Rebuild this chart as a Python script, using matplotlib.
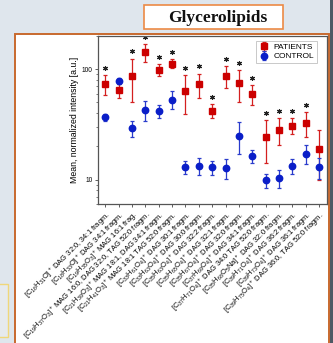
import numpy as np
import matplotlib
matplotlib.use("Agg")
import matplotlib.pyplot as plt
from matplotlib.patches import Rectangle
from matplotlib.ticker import NullFormatter

plt.rcParams['font.family'] = ['Liberation Sans', 'DejaVu Sans']
plt.rcParams['mathtext.default'] = 'regular'

# Datos
etiquetas = [
    '[C$_{16}$H$_{31}$O]$^+$ DAG 32:0, 34:1 fragm.',
    '[C$_{18}$H$_{33}$O]$^+$ DAG 34:1 fragm.',
    '[C$_{19}$H$_{35}$O$_3$]$^+$ MAG 16:1 frag.',
    '[C$_{19}$H$_{37}$O$_3$]$^+$ MAG 16:0, DAG 32:0, TAG 52:0 fragm.',
    '[C$_{21}$H$_{39}$O$_3$]$^+$ MAG 18:1, DAG 34:1 fragm.',
    '[C$_{21}$H$_{41}$O$_3$]$^+$ MAG 18:1 TAG 52:0 fragm.',
    '[C$_{33}$H$_{61}$O$_4$]$^+$ DAG 30:1 fragm.',
    '[C$_{33}$H$_{63}$O$_4$]$^+$ DAG 30:0 fragm.',
    '[C$_{35}$H$_{63}$O$_4$]$^+$ DAG 32:2 fragm.',
    '[C$_{35}$H$_{65}$O$_4$]$^+$ DAG 32:1 fragm.',
    '[C$_{35}$H$_{67}$O$_4$]$^+$ DAG 32:0 fragm.',
    '[C$_{37}$H$_{69}$O$_4$]$^+$ DAG 34:1 fragm.',
    '[C$_{37}$H$_{71}$O$_4$]$^+$ DAG 34:0 TAG 52:0 fragm.',
    '[C$_{35}$H$_{68}$O$_5$Na]$^+$ DAG 32:0 fragm.',
    '[C$_{39}$H$_{71}$O$_4$]$^+$ DAG 36:2 fragm.',
    '[C$_{39}$H$_{73}$O$_4$]$^+$ DAG 36:1 fragm.',
    '[C$_{39}$H$_{75}$O$_4$]$^+$ DAG 36:0, TAG 52:0 fragm.',
]
pacientes = [73, 64.5, 87.5, 143, 99, 112.5, 63.7, 73.4, 42.1, 87, 74.5, 59.5,
             24.2, 28.1, 30.8, 32.6, 18.9]
pacientes_sd = [15, 9.5, 37.5, 27, 12, 10.5, 24.3, 18, 5.9, 19.5, 24.5, 12.5,
                10.2, 7.7, 5.2, 8.2, 9]
control = [36.7, 78.2, 29.2, 42.4, 41.5, 53.1, 12.9, 13.4, 12.9, 12.7, 25, 16.3,
           9.8, 10.3, 13.4, 17.1, 13]
control_sd = [2.9, 5.2, 4.7, 8.6, 5.5, 9.7, 1.7, 2.4, 1.9, 2.5, 7.9, 2.3,
              1.5, 2.0, 2.1, 3.3, 2.8]
significativo = [True, False, True, True, True, True, True, True, True, True,
                 True, True, True, True, True, True, False]

W, H = 333, 343
fig = plt.figure(figsize=(W / 100, H / 100), dpi=100)
fig.patch.set_facecolor('#dfe6ed')


def caja(x0, y0, x1, y1, **kw):
    # rectangulo en pixeles (origen arriba a la izquierda), detras de los ejes
    r = Rectangle((x0 / W, 1 - y1 / H), (x1 - x0) / W, (y1 - y0) / H,
                  transform=fig.transFigure, zorder=-5, **kw)
    fig.patches.append(r)


# Decoracion del poster
caja(330, 0, 333, 343, facecolor='#4f5964', edgecolor='none')
caja(-2, 284, 8, 337, facecolor='#e6eaee', edgecolor='#f0d77a', linewidth=1)
caja(15, 34, 329, 350, facecolor='white', edgecolor='#c8692e', linewidth=1.4)
caja(144, 5, 283, 29, facecolor='white', edgecolor='#ec8a45', linewidth=1.2)
fig.text(218 / W, 1 - 17.5 / H, 'Glycerolipids', family='Liberation Serif',
         weight='bold', fontsize=12.5, ha='center', va='center', color='#111111')

ax = fig.add_axes([98 / W, 1 - 204 / H, (327 - 98) / W, (204 - 36) / H])
x = np.arange(len(etiquetas))

ax.errorbar(x, pacientes, yerr=pacientes_sd, fmt='s', color='#cc0000',
            ecolor='#d42020', markersize=4.2, capsize=1.6, elinewidth=0.9,
            capthick=0.9, label='PATIENTS', zorder=3)
ax.errorbar(x, control, yerr=control_sd, fmt='o', color='#0a1ec8',
            ecolor='#2a3ccc', markersize=4.6, capsize=1.6, elinewidth=0.9,
            capthick=0.9, label='CONTROL', zorder=3)

# Asteriscos de significancia
tope = np.array(pacientes) + np.array(pacientes_sd)
sig = np.array(significativo)
ax.plot(x[sig], tope[sig] * 1.16, linestyle='none', marker=(6, 2, 0),
        markersize=3.6, markeredgewidth=0.8, color='#222222')

ax.set_yscale('log')
ax.set_ylim(6, 200)
ax.set_xlim(-0.55, 16.6)
ax.set_yticks([10, 100])
ax.set_yticklabels(['10', '100'])
ax.yaxis.set_minor_formatter(NullFormatter())
ax.set_ylabel('Mean, normalized intensity [a.u.]', fontsize=6.3, labelpad=2)

ax.set_xticks(x)
ax.set_xticklabels(etiquetas, rotation=45, ha='right', rotation_mode='anchor',
                   fontsize=5.4)
ax.tick_params(axis='y', which='major', labelsize=4.8, length=2.5, width=0.6,
               pad=1.5, color='#444444')
ax.tick_params(axis='y', which='minor', length=1.5, width=0.5, color='#444444')
ax.tick_params(axis='x', length=2.5, width=0.6, pad=1.5, color='#444444')

for s in ax.spines.values():
    s.set_color('#555555')
    s.set_linewidth(0.9)

leg = ax.legend(loc='upper right', bbox_to_anchor=(0.956, 0.97), borderaxespad=0,
                fontsize=6, fancybox=False, handletextpad=0.6, borderpad=0.3,
                labelspacing=0.15, handlelength=1.2, numpoints=1)
leg.get_frame().set_edgecolor('#bbbbbb')
leg.get_frame().set_linewidth(0.7)

fig.savefig('out.png', dpi=100, facecolor=fig.get_facecolor())
